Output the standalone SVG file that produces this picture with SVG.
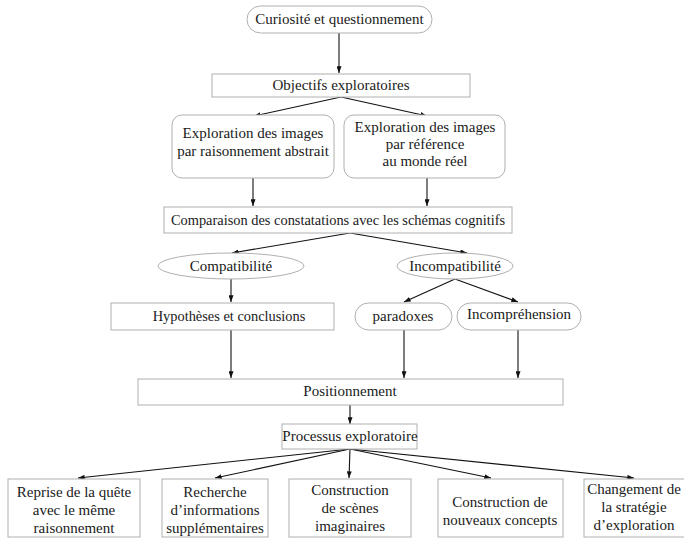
<svg xmlns="http://www.w3.org/2000/svg" width="684" height="541" viewBox="0 0 684 541">
<defs>
<marker id="ah" viewBox="0 0 8 6" refX="8" refY="3" markerWidth="7" markerHeight="5" markerUnits="userSpaceOnUse" orient="auto">
<path d="M0,0 L8,3 L0,6 z" fill="#111"/>
</marker>
<style>
.box{fill:#fff;stroke:#b0b0b0;stroke-width:1}
.t{font-family:"Liberation Serif","Times New Roman",serif;font-size:15px;fill:#1a1a1a;text-anchor:middle}
.s{font-size:14.4px}
.c{stroke:#111;stroke-width:1.1;fill:none;marker-end:url(#ah)}
</style>
</defs>
<rect width="684" height="541" fill="#fff"/>
<g id="connectors">
<line class="c" x1="339" y1="33" x2="339" y2="73"/>
<line class="c" x1="341" y1="97" x2="254" y2="116"/>
<line class="c" x1="341" y1="97" x2="427" y2="116"/>
<line class="c" x1="253" y1="178" x2="253" y2="206"/>
<line class="c" x1="427" y1="178" x2="427" y2="206"/>
<line class="c" x1="350" y1="233" x2="232" y2="253"/>
<line class="c" x1="350" y1="233" x2="467" y2="253"/>
<line class="c" x1="231" y1="279" x2="231" y2="302"/>
<line class="c" x1="455" y1="279" x2="404" y2="302"/>
<line class="c" x1="455" y1="279" x2="518" y2="302"/>
<line class="c" x1="231" y1="330" x2="231" y2="378"/>
<line class="c" x1="404" y1="330" x2="404" y2="378"/>
<line class="c" x1="518" y1="330" x2="518" y2="378"/>
<line class="c" x1="350" y1="405" x2="350" y2="424"/>
<line class="c" x1="350" y1="449" x2="78" y2="478"/>
<line class="c" x1="350" y1="449" x2="215" y2="478"/>
<line class="c" x1="350" y1="449" x2="349" y2="478"/>
<line class="c" x1="350" y1="449" x2="491" y2="478"/>
<line class="c" x1="350" y1="449" x2="634" y2="478"/>
</g>
<g id="n-curiosite">
<rect class="box" x="247" y="6" width="185" height="27" rx="13.5"/>
<text class="t" x="339.5" y="24">Curiosité et questionnement</text>
</g>
<g id="n-objectifs">
<rect class="box" x="212" y="74" width="258" height="23"/>
<text class="t" x="341" y="90">Objectifs exploratoires</text>
</g>
<g id="n-abstrait">
<rect class="box" x="172" y="115" width="162" height="63" rx="10"/>
<text class="t" x="253" y="138">Exploration des images</text>
<text class="t" x="253" y="156">par raisonnement abstrait</text>
</g>
<g id="n-reel">
<rect class="box" x="344" y="115" width="161" height="63" rx="10"/>
<text class="t" x="425" y="132">Exploration des images</text>
<text class="t" x="425" y="149">par référence</text>
<text class="t" x="425" y="166">au monde réel</text>
</g>
<g id="n-comparaison">
<rect class="box" x="164" y="207" width="348" height="26"/>
<text class="t s" x="338" y="225">Comparaison des constatations avec les schémas cognitifs</text>
</g>
<g id="n-compatibilite">
<ellipse class="box" cx="231" cy="266" rx="73" ry="13"/>
<text class="t" x="231" y="271">Compatibilité</text>
</g>
<g id="n-incompatibilite">
<ellipse class="box" cx="455" cy="266" rx="58" ry="13"/>
<text class="t" x="455" y="271">Incompatibilité</text>
</g>
<g id="n-hypotheses">
<rect class="box" x="111" y="303" width="223" height="27"/>
<text class="t s" x="229" y="321">Hypothèses et conclusions</text>
</g>
<g id="n-paradoxes">
<rect class="box" x="355" y="303" width="97" height="27" rx="13.5"/>
<text class="t" x="403" y="321">paradoxes</text>
</g>
<g id="n-incomprehension">
<rect class="box" x="457" y="303" width="124" height="27" rx="13.5"/>
<text class="t" x="519" y="319">Incompréhension</text>
</g>
<g id="n-positionnement">
<rect class="box" x="138" y="379" width="425" height="26"/>
<text class="t" x="350" y="396">Positionnement</text>
</g>
<g id="n-processus">
<rect class="box" x="282" y="424" width="135" height="25"/>
<text class="t" x="350" y="441">Processus exploratoire</text>
</g>
<g id="n-reprise">
<rect class="box" x="8" y="479" width="132" height="58"/>
<text class="t" x="74" y="497">Reprise de la quête</text>
<text class="t" x="74" y="515">avec le même</text>
<text class="t" x="74" y="533">raisonnement</text>
</g>
<g id="n-recherche">
<rect class="box" x="162" y="479" width="106" height="58"/>
<text class="t" x="215" y="497">Recherche</text>
<text class="t" x="215" y="515">d’informations</text>
<text class="t" x="215" y="533">supplémentaires</text>
</g>
<g id="n-scenes">
<rect class="box" x="289" y="479" width="122" height="58"/>
<text class="t" x="350" y="495">Construction</text>
<text class="t" x="350" y="513">de scènes</text>
<text class="t" x="350" y="531">imaginaires</text>
</g>
<g id="n-concepts">
<rect class="box" x="438" y="479" width="125" height="58"/>
<text class="t" x="500" y="507">Construction de</text>
<text class="t" x="500" y="525">nouveaux concepts</text>
</g>
<g id="n-changement">
<rect class="box" x="584" y="479" width="110" height="58"/>
<text class="t" x="634" y="494">Changement de</text>
<text class="t" x="634" y="512">la stratégie</text>
<text class="t" x="634" y="530">d’exploration</text>
</g>
</svg>
